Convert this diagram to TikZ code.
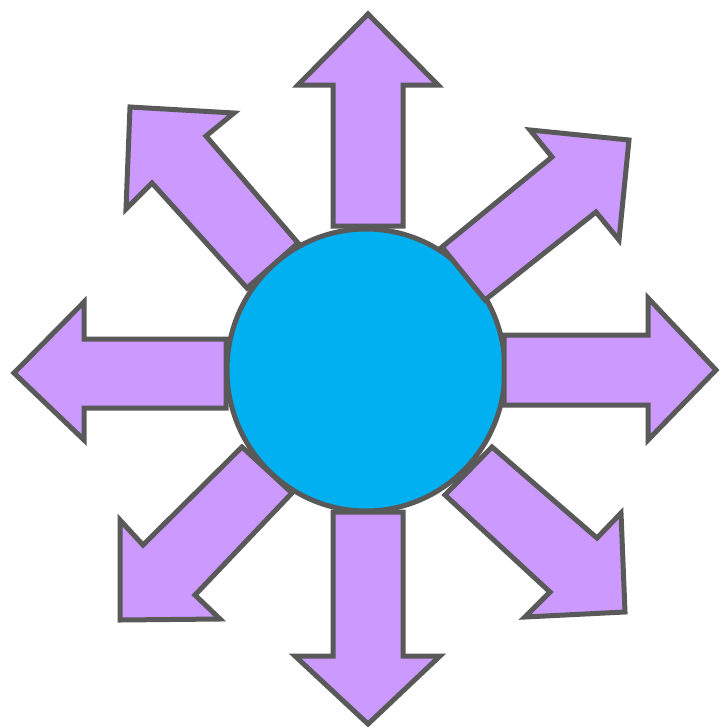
\documentclass[tikz,border=0pt]{standalone}
\definecolor{arrowfill}{HTML}{CC99FF}
\definecolor{hubfill}{HTML}{00B0F0}
\definecolor{edgegray}{HTML}{595959}
\begin{document}
\begin{tikzpicture}[x=1pt,y=-1pt,
  hub/.style={fill=hubfill,draw=edgegray,line width=5pt},
  arrowshape/.style={fill=arrowfill,draw=edgegray,line width=5pt,line join=miter}]
\useasboundingbox (0,0) rectangle (720,728);
% central hub
\draw[hub] (366,370) ellipse [x radius=139, y radius=141];
% up
\draw[arrowshape] (333,226) -- (333,85) -- (298,85) -- (368,14) -- (438,85) -- (403,85) -- (403,226) -- cycle;
% down
\draw[arrowshape] (333,512) -- (333,656) -- (295,656) -- (368,724) -- (440,656) -- (403,656) -- (403,512) -- cycle;
% right
\draw[arrowshape] (504,335) -- (648,335) -- (648,298) -- (716,370) -- (648,440) -- (648,405) -- (504,405) -- cycle;
% left
\draw[arrowshape] (226,339) -- (84,339) -- (84,302) -- (14,373) -- (84,440) -- (84,408) -- (226,408) -- cycle;
% upper-left
\draw[arrowshape] (298,243) -- (206,136) -- (234,113) -- (130,107) -- (126,209) -- (152,183) -- (247,288) -- cycle;
% upper-right
\draw[arrowshape] (442,247) -- (552,157) -- (530,130) -- (629,140) -- (619,240) -- (596,212) -- (485,300) -- cycle;
% lower-right
\draw[arrowshape] (492,447) -- (597,538) -- (621,513) -- (625,612) -- (525,617) -- (550,592) -- (445,495) -- cycle;
% lower-left
\draw[arrowshape] (242,447) -- (143,545) -- (120,520) -- (120,620) -- (220,619) -- (195,595) -- (292,493) -- cycle;
\end{tikzpicture}
\end{document}
